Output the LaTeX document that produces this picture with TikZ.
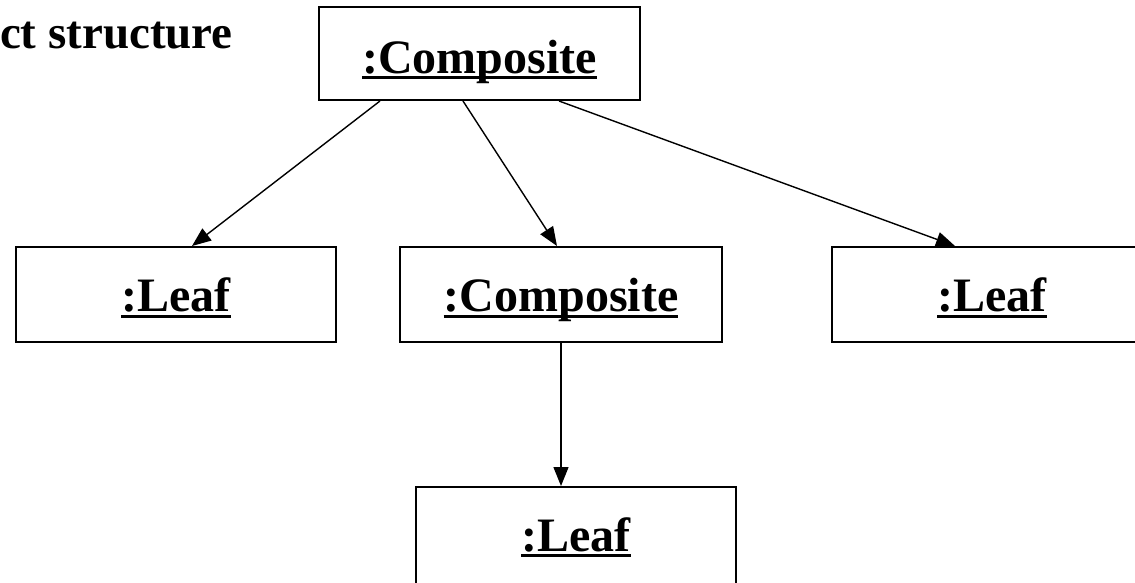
\documentclass[tikz,border=0pt]{standalone}
\usepackage{fontspec}
\setmainfont{Liberation Serif}
\usetikzlibrary{arrows.meta}

% underline that sits at a fixed depth and crosses descenders
\newcommand\objname[1]{\setbox0=\hbox{#1}\rlap{\rule[-0.125em]{\wd0}{0.055em}}\box0}

\begin{document}
\begin{tikzpicture}[x=1pt,y=-1pt,
  objbox/.style={draw, line width=2pt, inner sep=0pt,
    minimum width=320pt, minimum height=95pt,
    font=\fontsize{48}{56}\selectfont\bfseries,
    text height=34pt, text depth=0pt},
  link/.style={line width=1.4pt, -{Triangle[length=19pt,width=15pt]}},
  title/.style={font=\fontsize{47}{55}\selectfont\bfseries, inner sep=0pt}]
  \useasboundingbox (0,0) rectangle (1135,582);
  \clip (0,0) rectangle (1135,582);

  % heading
  \node[title, anchor=base east] (heading) at (233,48) {ct structure};

  % object boxes
  \node[objbox, minimum width=321pt, minimum height=93pt, text height=39pt]
    (root) at (479.5,53.5) {\objname{:Composite}};
  \node[objbox] (leafA) at (176,294.5) {\objname{:Leaf}};
  \node[objbox, minimum width=322pt] (comp) at (561,294.5) {\objname{:Composite}};
  \node[objbox] (leafB) at (992,294.5) {\objname{:Leaf}};
  \node[objbox, minimum height=113pt, text height=15pt]
    (leafC) at (576,543.5) {\objname{:Leaf}};

  % links
  \draw[link] ([xshift=62pt]root.south west) -- ([xshift=177pt]leafA.north west);
  \draw[link] ([xshift=145pt]root.south west) -- ([xshift=158pt]comp.north west);
  \draw[link] ([xshift=241pt]root.south west) -- ([xshift=124pt]leafB.north west);
  \draw[link] (comp.south) -- (comp.south |- leafC.north);
\end{tikzpicture}
\end{document}
